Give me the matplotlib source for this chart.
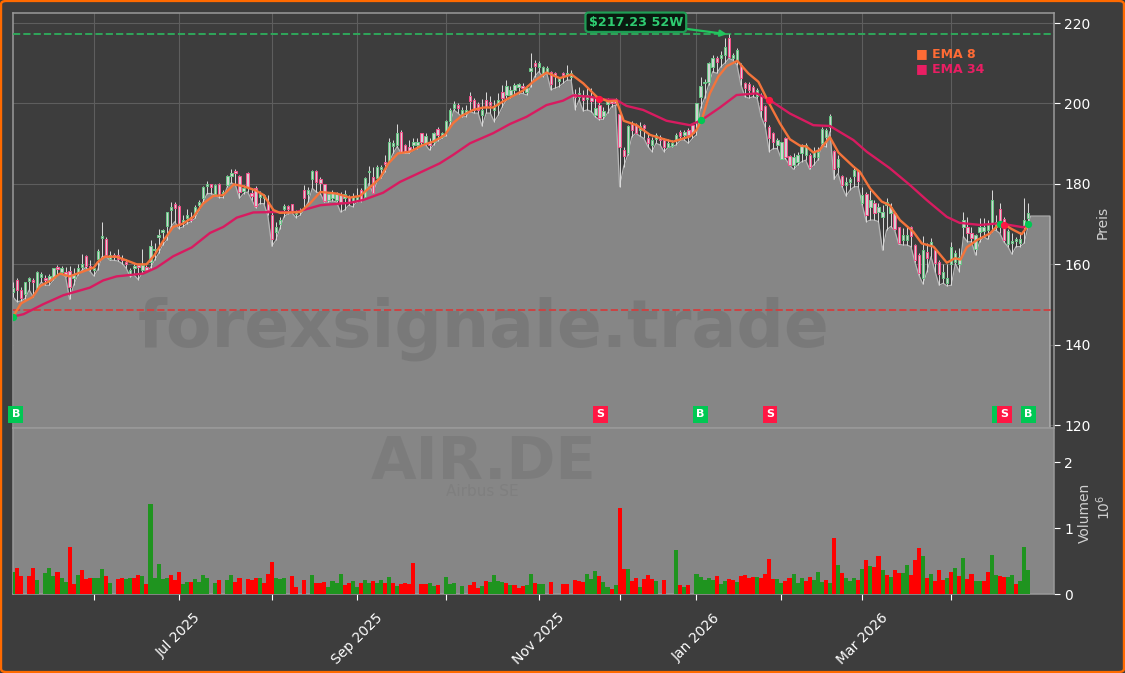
#!/usr/bin/env python3
"""
AIR.DE daily candles with EMA 8 / EMA 34, signals and volume panel
"""

import matplotlib
matplotlib.use('Agg')
import matplotlib.pyplot as plt
from matplotlib.patches import FancyBboxPatch
import numpy as np

# Candles, EUR
open_p = [
    153.2,156.2,153.7,152.7,155.9,156.2,154,156.9,156.7,156.2,
    156.7,159.4,158,158.1,158.3,156.5,157.9,159.4,162,159.5,
    158.5,161.4,166.6,166.4,161.4,162.3,162.2,161.4,160.6,157.7,
    159.2,159.8,158.7,159.4,160.6,163.5,166.8,168.1,169.5,173.5,
    175.1,174.5,170.6,171.4,171.8,172.8,174.7,176.4,179.4,179.9,
    177.6,180.1,177.2,179.7,182,183.2,181.9,178.3,182.8,177.8,
    178.9,176.8,176.6,175.5,172.2,168.1,170.1,173.8,174.5,175,
    172.6,172.9,178.6,177.6,181.1,183.2,181.3,179.9,176,176.4,
    176.1,177.2,176.4,176.8,175.6,176,178.5,176.8,182.9,181.6,
    181.4,183.6,185.5,185.8,189.5,189.7,193,189.7,189.3,189.7,
    189.7,192.6,190.1,190.5,190.3,193.7,191.7,193.2,195.7,199,
    199.6,197.1,197.7,201.9,200.9,199.9,197.1,200.9,200.4,198.4,
    199.6,202.9,202.1,202.1,203.4,204.2,204.3,202.9,208.2,210,
    209,207.3,207.9,207.9,207.5,205.7,207.7,207.1,206.7,202.4,
    201.7,201.7,201,201.7,197.1,199.6,197,199.9,200.7,201,
    197.5,188.4,187.6,194.9,194.6,193.4,194.6,191.3,189.7,191.1,
    191.6,190.9,189.3,189.4,190.9,193,192.2,193.4,194.6,195.5,
    201.7,205,205.4,209.1,211.2,211.2,212,216.2,211.2,210.8,
    209.6,205.2,204.8,204.2,201.8,202.1,199.4,194.1,192.6,189.7,
    186.3,191.5,186.9,184.7,185.5,187.6,187.2,187.2,186.8,186.6,
    190.1,191.7,194.2,188.2,184.1,182,179.7,180.5,182,183.2,
    175.2,177.6,174.3,175.2,173.1,171.8,174.7,172.7,172.8,169.2,
    166,166,169.2,164.8,162.3,156.5,163.1,164.8,163.5,160.7,
    156.5,155.3,160.2,160.7,160.2,169.4,169.4,167.7,163.7,168.1,
    168.4,168.5,170.2,169.4,173.7,171.3,165,165.2,165.7,165.4,
    169.4,171.4]
close_p = [
    154,153.7,151.7,155.5,156.5,155.6,158.1,157.7,156.1,157.1,
    159,158.8,159.2,157.3,154.4,157.3,159.2,160.2,159.6,159,
    159.2,163.4,167.1,162.3,162.3,161.7,161.4,161,160.2,158.7,
    159.7,159.4,159.8,158.5,164.5,163.9,167.3,168.5,172.9,174.3,
    173.9,169.7,171,172.2,171.1,174.3,175.5,179.3,180.1,179.3,
    179.7,177.2,178,181.9,182.8,182.6,178,178.9,179.3,177,
    174.5,177.6,177.2,173.5,166.4,169.3,171,174.5,173.8,173.1,
    173.1,173.5,176.4,178.4,183.2,180.5,180.3,175.8,177.6,177.8,
    177.6,175.5,177.6,175.5,176.8,176.8,176,181.4,183.3,177.8,
    184.3,184.3,184.9,190.3,190.1,192.6,188,188.2,188.3,190.5,
    190.5,190.5,191.9,189.7,192.6,192.2,192.6,195.6,198.4,199.8,
    199,198.5,198.4,200.7,198.4,198.4,198.5,199.2,199.6,199.2,
    200.9,201.3,204.3,203.4,204.6,204.8,203.8,203.8,208.7,209.4,
    210.1,209,208.7,204.8,206.8,206.3,207.1,207.7,207.5,201.5,
    202.7,200.9,202.1,200.5,199,196.3,198.1,200.9,200,200.2,
    189.1,186.9,194.4,193.4,192.7,194.4,193.8,190.1,190.9,192.2,
    190.8,189.3,190.1,190.1,192.2,191.9,193,192.2,192.6,200,
    204.3,205.4,210,211.2,210.4,212,214.1,211.6,212,213.3,
    206.4,203.8,203.3,202.5,203.3,198.5,195.7,191.3,190.3,190.9,
    190.3,186.6,184.8,186.8,187.2,189.7,189.7,184.3,188,188,
    193.6,193.4,196.9,183.6,186.3,179.8,180.5,181.1,183.4,180.8,
    177.2,172.3,176,172.7,174.3,173.1,175.6,174.3,168.9,165.2,
    167.3,167.3,167,161.2,157.8,163.5,161.6,165.6,160.4,157.5,
    158.2,156.5,164.4,162.7,161.9,171,167.7,166.5,167.3,169.4,
    169.4,169.8,176.1,170.6,170.9,166,168.3,165.9,166.2,166.2,
    171,172.7]
high_p = [
    155.6,156.5,154.4,155.6,156.9,156.7,158.3,158.1,157.3,157.7,
    159.2,159.8,159.7,159.4,159.5,159,160.2,162.5,162.3,161,
    159.8,163.9,170.6,166.7,163.4,162.9,163.7,162.3,161.4,159,
    160.2,160,163.9,159.8,166,165.2,168.9,168.9,173.1,175.4,
    175.4,174.7,172.2,173.7,173.1,174.7,176.1,179.4,180.8,180.1,
    179.9,180.3,178.4,182.2,183.6,183.6,182.2,179.7,183,179.1,
    179.6,178.3,177.6,177.2,173.5,170.6,171.8,174.9,174.7,175.1,
    173.5,173.9,179.7,179.3,183.4,183.4,181.6,180.1,178,178.4,
    178,178,178.6,177.2,177.7,178.9,178.9,181.6,184.5,184.3,
    184.7,184.7,187.2,191.3,190.9,194.9,193.4,189.9,190.9,191.3,
    191.3,192.7,192.6,191.3,193,194.1,193,195.9,198.8,200.5,
    200,199.2,199.6,202.8,201.3,200.4,201,202.9,201.9,200.9,
    202.5,204.6,205.8,204.3,205,205,205,204.6,212.6,210.8,
    210.6,209.3,209.2,208.2,207.9,206.7,207.9,209.6,208.3,203.5,
    204.2,203.4,204.2,203.8,201.7,201.7,199.2,201.3,200.9,201.3,
    197.7,189.1,194.6,195.7,195.2,195.5,194.9,192.6,191.7,192.7,
    192.2,191.3,191.1,190.9,192.6,193.4,193.4,193.8,195,200.2,
    206.5,206.2,210.4,212,211.8,213.1,216.4,217.2,212.5,213.7,
    210,205.4,205.4,204.6,203.8,202.5,199.6,194.6,193,191.3,
    190.5,191.7,187.2,187.6,188,189.9,190.1,187.6,189.3,189.3,
    194.2,193.8,197.5,188.4,187.2,182.2,181.8,181.8,184.1,183.4,
    179.3,177.9,178.5,176,175.2,174.7,176.4,175.2,173.1,169.3,
    169,169.3,169.5,165,162.7,167,165.2,166.5,164,161.1,
    160.2,160.2,165.6,163.5,164,173.1,171.8,169.3,167.5,171.4,
    171.4,171,178.6,172.3,175.3,171.8,168.7,167.7,166.9,168.1,
    176.4,175.2]
low_p = [
    151.9,150.7,150.9,151.5,153.6,151.9,154,155.6,154.8,154.8,
    156.1,157.3,157.7,156.9,151.3,154.8,157.3,158.5,159.2,158.3,
    157.1,158.7,161.9,162,161,161,160.8,160.2,159,156.9,
    157.3,156.2,157.9,158.1,159.2,161,162.7,164.8,166,169.3,
    170.6,168.9,169.3,170.1,170.6,171.4,173.5,175.5,177.6,177.6,
    177.2,176.6,176.6,179.3,180.3,179.7,176.4,177.6,178,176.1,
    174.1,175.1,175.1,172.2,164.5,166,168.9,171.8,172.6,172.8,
    171.6,172.2,173.6,175.5,178.9,178,177.6,175.5,175.5,175.8,
    175.5,173,173.5,174.7,174.3,175.6,175.6,176.4,180.1,177.7,
    180.6,181.4,183,185.5,187.6,189.3,187.6,187.6,187.6,188.4,
    188.8,189.7,189.7,188.4,189.7,190.7,191.3,191.9,194.6,198.4,
    197.6,196.7,196.7,198,197.6,197.6,194.4,197.6,197.6,195.5,
    197.1,199.2,200.9,201.3,202.1,202.4,202.5,202.1,204.2,206.7,
    207.9,206.7,207.5,203.4,203.8,204.2,205,205.8,205.8,198.5,
    200.9,198.1,198.4,198,196.7,195.9,196.1,197.6,199.2,199.6,
    179.3,184.3,187.2,191.7,192.6,191.9,191.3,189.3,188,190.1,
    189.7,188,189.1,189.3,189.7,190.9,190.9,190.1,191.3,192.2,
    198.8,201.3,204.6,207.9,207.5,209.1,210,211.2,210.8,209.6,
    204.6,201.7,201.3,201.7,201.3,196.7,194.2,188,188.8,188.8,
    186.1,186.3,184.7,183.6,184.7,185.5,185.9,183.6,184.7,185.9,
    189.7,189.2,193,181.1,182.6,179.3,177,178.5,179.3,179.3,
    174.7,170.6,171,171,170.6,163.5,168.5,169.4,168.5,165,
    164.8,164.8,164.4,160.6,157.3,155.1,158.2,161.9,158.2,154.8,
    155.3,154.6,154.8,160.2,158.2,166.9,165.6,165.6,162.3,165.6,
    166.9,166.2,168.1,168.5,167.7,165.6,164.4,162.5,164.4,164.4,
    165.2,169.4]

# Volume in millions, g/r per bar (x = no volume that day)
volume = [
    .33,.39,.28,0,.28,.39,.22,0,.32,.39,
    .28,.33,.25,.18,.71,.15,.29,.36,.23,.24,
    .24,.24,.38,.27,.17,0,.23,.24,.23,.24,
    .24,.29,.27,.15,1.37,.25,.45,.23,.25,.29,
    .21,.33,.15,.18,.18,.23,.18,.29,.25,0,
    .17,.21,0,.21,.29,.18,.25,0,.23,.21,
    .24,.24,.17,.30,.48,.25,.23,.25,0,.27,
    .11,0,.21,0,.29,.17,.17,.18,.11,.20,
    .17,.30,.14,.17,.20,.11,.17,.21,.17,.20,
    .17,.21,.17,.26,.17,.12,.15,.17,.15,.47,
    0,.15,.15,.17,.12,.14,0,.26,.15,.17,
    0,.12,0,.14,.18,.09,.12,.20,.18,.29,
    .20,.18,.17,.14,.14,.09,.12,.14,.30,.17,
    .15,.15,0,.18,0,0,.15,.15,0,.21,
    .20,.18,.30,.23,.35,.27,.18,.11,.08,.14,
    1.30,.38,.38,.20,.24,.11,.23,.29,.23,.20,
    0,.21,0,0,.67,.14,.11,.14,0,.30,
    .26,.21,.24,.21,.27,.15,.20,.23,.21,.18,
    .27,.29,.24,.26,.26,.24,.30,.53,.23,.23,
    .17,.20,.24,.30,.17,.24,.20,.26,.21,.33,
    .18,.21,.17,.85,.44,.32,.24,.20,.24,.21,
    .38,.52,.42,.41,.58,.36,.29,.26,.36,.32,
    .32,.44,.29,.52,.70,.58,.24,.30,.20,.36,
    .21,.24,.33,.39,.27,.55,.23,.30,.20,.20,
    .20,.33,.59,.29,.27,.26,.26,.29,.15,.20,
    .71,.36]
volume_dir = ("grrxrrgxgg" "grggrrgrrr" "gggrgxrrgg" "rrgrgggggr" "rrggrggggx"
              "grxggrrxrr" "rgrrrgggxr" "rxrxgrrrgg" "ggrrggrggr" "ggrgrgrrrr"
              "xrrggrxggg" "xgxrrrgrgg" "ggrgrrrggr" "ggxrxxrrxr" "rrgggrggrg"
              "rrgrrgrrrg" "xrxxgrgrxg" "ggggrggrrg" "rrrrgrrrrg" "grrgggrrgg"
              "grgrgrgggr" "grgrrgrgrr" "ggrrrgrgrr" "rgrgrgrrgg" "rrggrrggrg"
              "gg")

# EMA lines
ema8_idx = [
    0,2,4.9,6.7,9.2,11.6,14,17,20,21,22.7,25.6,28,30.6,33,35,37,39.6,42,44.6,
    47,49.5,52,54.6,57,60,62,64.4,66,71,73.4,76,80,83.3,85.8,88.2,90.7,92.8,95.2,98.1,
    101.4,103.9,106.8,108.8,110.9,113.8,116.3,118.7,122,126.1,128.6,131.9,135.2,138.1,141,144.3,147.2,149.2,151,154.2,
    157.5,160.3,163.2,165.7,167.4,169,170.3,172.3,174.4,176.5,179.1,181.8,184.3,187.2,189.6,192.1,194.6,196.2,197.9,199.4,
    202,204.1,207.8,209.4,211.9,214.8,216.8,219.3,222.6,224.7,227.6,230.9,232.9,234.3,235.8,238.3,241.6,243.6,245.3,246.9,
    249.4,251.1]
ema8 = [
    147,150.3,151.9,154.6,155.9,157.7,157,158.1,159.2,160.6,161.9,161.9,161,160,160,162.3,165.6,169.3,170.1,171.8,
    175.1,177,177.2,179.9,179.4,178.4,177.2,173.5,172.8,173,175.1,178,177.6,176.6,177,179.1,181.4,185.1,187.6,188,
    189.7,190.5,192.2,195.1,196.9,198.4,199,199,201,203.2,205.4,207.7,206.3,207.2,205,201.7,200.5,200.7,195.7,194.6,
    192.2,191.3,190.5,191.3,191.8,193.4,196,202.5,206.7,209.3,210.6,207.5,205.4,199.6,195.1,191.1,189.5,189.3,187.8,188.4,
    191.6,187.8,184.3,183,178.9,175.6,174.7,171,168.1,165.2,164.4,160.4,161.5,161.2,164.2,166,167.7,169.8,169.8,168.8,
    167.5,169.8]
ema34_idx = [
    0,2.6,7.5,12.4,19,22.3,25.6,32.2,35.5,39.6,44.2,48.7,52,55.3,59.4,64.4,70,76,83.3,86.6,
    91.5,95.7,100.6,105.5,108.8,113,118.7,122.9,127,131.9,136,138.5,142.6,146,149.2,151.7,155.8,161.6,167.4,170.3,
    174.8,178.9,183.9,187.2,192.1,197.9,202,207.8,211.1,216.8,221.8,225.9,230.9,234.1,239.1,244,249.8,251.3]
ema34 = [
    147,147.6,150.1,152.3,154.2,156,157,157.7,159.2,162,164.2,167.8,169.3,171.6,172.9,173,173,174.7,175.3,176,
    177.8,180.5,182.8,185.1,187.2,190.1,192.6,194.9,196.7,199.6,200.7,202,201.7,201,200.9,199.4,198.4,195.7,194.6,195.9,
    199,202.1,202.5,200.8,197.5,194.6,194.4,190.9,188,183.9,179.7,176,171.8,170.3,169.8,170.2,169.2,169.8]

# Crossover signals
buy_idx = [0, 170, 244, 251]
buy_price = [147, 196, 170, 170]
sell_idx = [145, 187, 245]
sell_price = [201, 200.8, 169.9]

high_52w = 217.23
low_52w = 148.6
last_price = 172

# Month ticks (bar numbers), only every other one has a label
tick_idx = [20, 41, 64, 85, 107, 130, 150, 169, 190, 210, 232]
tick_labels = ['', 'Jul 2025', '', 'Sep 2025', '', 'Nov 2025', '', 'Jan 2026', '', 'Mar 2026', '']

BG = '#3d3d3d'
AREA = '#868686'
GREEN = '#00c853'
RED = '#ff1744'
ORANGE = '#f4743b'
PINK = '#d81b60'

W, H = 1125, 673
fig = plt.figure(figsize=(W / 100, H / 100), dpi=100, facecolor=BG)

# orange frame round the whole figure, behind the axes
frame = FancyBboxPatch((0.0009, 0.0014), 0.9982, 0.9972,
                       boxstyle='round,pad=0,rounding_size=0.005',
                       transform=fig.transFigure, fc=BG, ec='#ff6a00', lw=1.7, zorder=-1)
fig.patches.append(frame)

left, right = 13 / W, 1054 / W
ax = fig.add_axes([left, 1 - 428 / H, right - left, 415 / H], facecolor=BG)
ax_vol = fig.add_axes([left, 1 - 594 / H, right - left, 166 / H], facecolor=AREA, sharex=ax)

x = np.arange(len(close_p))
opens = np.array(open_p)
closes = np.array(close_p)

# area along the lows, runs out flat at the last price
area_x = np.append(x, [251.6, 256.4])
area_y = np.append(low_p, [last_price, last_price])
ax.fill_between(area_x, 100, area_y, color=AREA, lw=0, zorder=2)
ax.plot(np.append(area_x, area_x[-1]), np.append(area_y, 100), color='#b5b5b5', lw=0.9, zorder=2.2)

ax.text(0.4525, 0.24, 'forexsignale.trade', transform=ax.transAxes, ha='center', va='center',
        fontsize=47.8, fontweight='bold', color='black', alpha=0.09, zorder=2.5)

ax.axhline(high_52w, color='#2fa65a', ls='--', lw=1.4, zorder=3)
ax.axhline(low_52w, color='#cc4444', ls='--', lw=1.4, zorder=3)

# candles
ax.vlines(x, low_p, high_p, color='#dcdcdc', lw=0.7, zorder=3.2)
up = closes >= opens
body_colors = np.where(up, '#66c985', '#f5508a')
ax.bar(x, np.abs(closes - opens), bottom=np.minimum(opens, closes), width=0.58,
       color='#d2d2d2', edgecolor=body_colors, lw=0.7, zorder=3.4)

ax.plot(ema34_idx, ema34, color=PINK, lw=1.7, zorder=4)
ax.plot(ema8_idx, ema8, color=ORANGE, lw=1.7, zorder=4.2)

ax.scatter(buy_idx, buy_price, s=18, color=GREEN, zorder=5)
ax.scatter(sell_idx, sell_price, s=18, color=RED, zorder=5)

# B / S flags along the bottom of the price panel, first one nudged off the spine
for i in buy_idx:
    flag_x = max(i, 0.7)
    ax.text(flag_x, 122.7, 'B', ha='center', va='center', fontsize=8, fontweight='bold', color='white', zorder=6,
            bbox=dict(boxstyle='square,pad=0.3', fc=GREEN, ec='none'))
for i in sell_idx:
    ax.text(i + 0.2, 122.7, 'S', ha='center', va='center', fontsize=8, fontweight='bold', color='white', zorder=6,
            bbox=dict(boxstyle='square,pad=0.3', fc=RED, ec='none'))

ax.annotate(f'${high_52w:.2f} 52W', xy=(176.5, high_52w), xytext=(154, 220.2),
            ha='center', va='center', fontsize=9.2, fontweight='bold', color='#2ecc71', zorder=7,
            bbox=dict(boxstyle='round,pad=0.25', fc='#0a1a10', ec='#1f9d55', lw=1.6),
            arrowprops=dict(arrowstyle='-|>', color='#22c55e', lw=1.6, shrinkA=0, shrinkB=0))

ax.text(0.867, 0.903, '■ EMA 8', transform=ax.transAxes, color='#ff6b35', fontsize=9,
        fontweight='bold', va='center', zorder=7)
ax.text(0.867, 0.865, '■ EMA 34', transform=ax.transAxes, color='#e91e63', fontsize=9,
        fontweight='bold', va='center', zorder=7)

ax.set_xlim(0, 257.4)
ax.set_ylim(119.3, 222.5)
ax.set_yticks([120, 140, 160, 180, 200, 220])
ax.yaxis.tick_right()
ax.yaxis.set_label_position('right')
ax.set_ylabel('Preis', color='#d0d0d0', fontsize=10)
ax.yaxis.set_label_coords(1.0403, 0.496)
ax.grid(True, color='#5e5e5e', lw=0.8, zorder=1)
ax.set_axisbelow(True)
ax.tick_params(axis='x', length=0, labelbottom=False)
ax.tick_params(axis='y', colors='white', labelsize=10, length=4)

# volume panel
colors = ['#1f941f' if d == 'g' else '#ff0000' for d in volume_dir]
ax_vol.bar(x, volume, width=1.0, color=colors, lw=0, zorder=3)
ax_vol.set_ylim(0, 2.52)
ax_vol.set_yticks([0, 1, 2])
ax_vol.yaxis.tick_right()
ax_vol.yaxis.set_label_position('right')
ax_vol.set_ylabel('Volumen', color='#d0d0d0', fontsize=10)
ax_vol.yaxis.set_label_coords(1.0225, 0.488)
ax_vol.set_xticks(tick_idx)
ax_vol.set_xticklabels(tick_labels, rotation=45, ha='center')
ax_vol.tick_params(axis='x', colors='white', labelsize=10, length=4, pad=8)
ax_vol.tick_params(axis='y', colors='white', labelsize=10, length=4)
ax_vol.text(1.0475, 0.524, r'$10^{6}$', transform=ax_vol.transAxes, rotation=90, ha='center', va='center',
            color='#d0d0d0', fontsize=10)

ax_vol.text(0.4525, 0.795, 'AIR.DE', transform=ax_vol.transAxes, ha='center', va='center',
            fontsize=42.5, fontweight='bold', color='black', alpha=0.07, zorder=1)
ax_vol.text(0.4505, 0.62, 'Airbus SE', transform=ax_vol.transAxes, ha='center', va='center',
            fontsize=11, color='black', alpha=0.05, zorder=1)

for a in (ax, ax_vol):
    for s in a.spines.values():
        s.set_color('#9a9a9a')
        s.set_linewidth(1.1)

fig.savefig('out.png', dpi=100, facecolor=BG)
